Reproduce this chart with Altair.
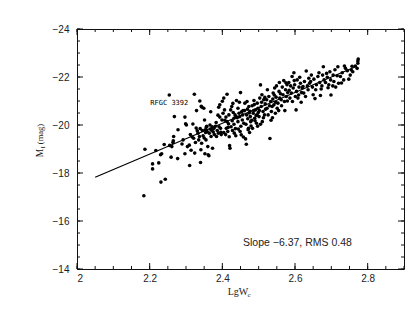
import altair as alt
import pandas as pd

# ---- data -----------------------------------------------------------------
lgw = [
    2.184, 2.187,
    2.208, 2.208, 2.217,
    2.225, 2.230, 2.233, 2.231, 2.240,
    2.243, 2.254, 2.259, 2.255,
    2.261, 2.264, 2.265, 2.266, 2.268, 2.278, 2.277,
    2.289, 2.292, 2.297, 2.297, 2.299,
    2.301, 2.304, 2.309, 2.312, 2.310, 2.319, 2.317, 2.314,
    2.323, 2.321, 2.324, 2.328, 2.331, 2.329, 2.333, 2.335, 2.338, 2.326, 2.337, 2.339,
    2.340, 2.341, 2.342, 2.344, 2.349, 2.351, 2.354, 2.356, 2.345, 2.347, 2.350, 2.353, 2.358, 2.343, 2.355, 2.352, 2.357,
    2.360, 2.361, 2.363, 2.373, 2.366, 2.367, 2.371, 2.375, 2.364, 2.377, 2.369, 2.378, 2.372, 2.368,
    2.383, 2.388, 2.390, 2.393, 2.386, 2.389, 2.395, 2.384, 2.391, 2.397, 2.399, 2.393, 2.381, 2.396,
    2.400, 2.404, 2.413, 2.402, 2.406, 2.410, 2.413, 2.417, 2.404, 2.409, 2.415, 2.419, 2.411, 2.418, 2.407, 2.416,
    2.420, 2.421, 2.423, 2.426, 2.430, 2.432, 2.435, 2.424, 2.428, 2.433, 2.437, 2.439, 2.432, 2.427, 2.438, 2.429, 2.436,
    2.450, 2.443, 2.446, 2.448, 2.452, 2.455, 2.457, 2.444, 2.459, 2.456, 2.443, 2.449, 2.458, 2.453, 2.447, 2.451, 2.441,
    2.464, 2.466, 2.462, 2.468, 2.473, 2.467, 2.470, 2.476, 2.478, 2.472, 2.479, 2.465, 2.475, 2.469, 2.474, 2.461, 2.477, 2.471,
    2.482, 2.487, 2.491, 2.496, 2.485, 2.489, 2.494, 2.498, 2.483, 2.490, 2.496, 2.499, 2.486, 2.493, 2.481, 2.497, 2.488,
    2.505, 2.503, 2.509, 2.514, 2.507, 2.512, 2.518, 2.501, 2.510, 2.516, 2.505, 2.519, 2.502, 2.513, 2.508, 2.517,
    2.531, 2.524, 2.528, 2.533, 2.537, 2.522, 2.535, 2.540, 2.526, 2.539, 2.530, 2.538, 2.523, 2.534,
    2.544, 2.549, 2.556, 2.548, 2.553, 2.558, 2.542, 2.551, 2.560, 2.546, 2.557, 2.543, 2.555, 2.547,
    2.569, 2.565, 2.574, 2.578, 2.567, 2.576, 2.571, 2.562, 2.580, 2.575, 2.563, 2.572, 2.579,
    2.597, 2.592, 2.588, 2.583, 2.595, 2.590, 2.599, 2.586, 2.601, 2.593, 2.584, 2.598,
    2.606, 2.611, 2.615, 2.604, 2.618, 2.613, 2.608, 2.620, 2.603, 2.610, 2.617,
    2.631, 2.626, 2.634, 2.638, 2.624, 2.636, 2.629, 2.640, 2.622,
    2.643, 2.648, 2.652, 2.657, 2.650, 2.659, 2.645, 2.655,
    2.678, 2.670, 2.663, 2.668, 2.674, 2.680, 2.666, 2.676, 2.672,
    2.699, 2.684, 2.689, 2.693, 2.698, 2.687, 2.696, 2.691,
    2.704, 2.707, 2.712, 2.716, 2.718, 2.705, 2.720, 2.710,
    2.725, 2.730, 2.734, 2.739, 2.736, 2.728,
    2.748, 2.752, 2.755, 2.759, 2.744, 2.757,
    2.766, 2.773, 2.773, 2.774, 2.771,
]
mag = [
    -17.05, -18.99,
    -18.38, -18.17, -18.94,
    -18.42, -18.76, -18.80, -17.62, -19.19,
    -17.74, -21.25, -18.66, -19.15,
    -19.10, -19.27, -19.34, -19.52, -20.35, -19.80, -18.60,
    -19.21, -19.38, -20.33, -18.80, -20.05,
    -20.00, -19.10, -19.16, -19.60, -18.31, -20.04, -19.50, -18.95,
    -21.28, -19.45, -18.83, -19.87, -19.76, -20.60, -19.66, -19.38, -21.00, -19.27, -19.52, -19.85,
    -18.44, -18.97, -20.78, -20.74, -20.70, -20.21, -19.69, -19.91, -19.77, -19.55, -19.46, -19.80, -19.73, -19.24, -19.38, -18.80, -19.95,
    -19.10, -18.76, -18.72, -19.03, -20.00, -19.83, -19.77, -19.71, -19.66, -19.86, -19.52, -19.60, -19.92, -20.55,
    -20.10, -20.41, -20.74, -20.84, -19.77, -19.66, -19.86, -19.52, -19.93, -19.60, -20.21, -20.33, -19.95, -19.70,
    -20.99, -21.12, -21.28, -20.49, -20.63, -20.33, -20.14, -20.05, -19.69, -19.60, -19.73, -19.51, -19.86, -20.42, -20.20, -19.90,
    -19.14, -19.03, -20.63, -20.77, -20.52, -20.28, -20.42, -19.93, -19.77, -19.66, -19.55, -21.02, -20.03, -20.18, -20.35, -20.90, -19.85,
    -21.35, -20.70, -20.49, -20.35, -19.59, -20.21, -20.60, -19.83, -20.07, -20.42, -20.14, -19.73, -19.50, -20.55, -20.95, -19.95, -20.30,
    -19.42, -19.20, -20.91, -20.98, -20.77, -20.42, -20.26, -20.57, -20.14, -19.86, -19.96, -20.03, -19.69, -20.66, -20.50, -20.60, -20.35, -19.80,
    -20.80, -21.02, -20.63, -20.42, -20.49, -20.28, -20.07, -20.70, -19.86, -20.18, -20.91, -20.52, -20.60, -20.40, -20.20, -19.95, -20.85,
    -21.67, -21.12, -21.26, -21.05, -20.77, -20.56, -20.88, -20.35, -20.14, -20.42, -20.03, -20.66, -20.60, -20.30, -20.95, -21.15,
    -19.44, -21.47, -21.19, -20.98, -20.77, -21.05, -20.56, -21.33, -20.42, -21.08, -20.80, -20.30, -20.70, -20.20,
    -21.54, -21.63, -21.40, -21.16, -20.91, -21.12, -20.84, -20.70, -21.30, -20.49, -21.77, -21.25, -20.60, -20.95,
    -21.85, -21.58, -21.47, -21.68, -21.26, -21.19, -20.98, -21.05, -21.35, -21.76, -20.80, -20.60, -21.00,
    -22.18, -22.02, -21.63, -21.77, -21.54, -21.33, -21.68, -21.12, -21.19, -20.98, -21.45, -21.85,
    -21.88, -21.58, -21.74, -21.40, -21.35, -21.99, -21.12, -21.54, -20.63, -21.25, -20.95,
    -22.25, -21.81, -21.63, -21.95, -21.33, -21.47, -21.19, -21.74, -21.60,
    -21.81, -21.58, -21.91, -21.47, -21.26, -21.68, -22.08, -21.10,
    -22.43, -21.23, -22.02, -21.77, -21.63, -21.88, -22.18, -22.08, -21.50,
    -21.25, -21.77, -21.99, -21.68, -21.88, -22.15, -22.22, -21.55,
    -21.63, -21.81, -21.58, -22.05, -22.43, -22.08, -21.74, -22.30,
    -22.02, -22.18, -21.88, -22.36, -22.46, -21.75,
    -21.91, -22.08, -22.29, -22.22, -22.26, -22.45,
    -22.46, -22.57, -22.67, -22.75, -22.36,
]

fit_x = [2.05, 2.77]
fit_y = [-17.82, -22.45]

label_x = [2.254]
label_y = [-21.25]
label_text = ["RFGC 3392"]

x_major = [2.0, 2.2, 2.4, 2.6, 2.8]
x_minor = [2.0, 2.05, 2.1, 2.15, 2.2, 2.25, 2.3, 2.35, 2.4, 2.45, 2.5,
           2.55, 2.6, 2.65, 2.7, 2.75, 2.8, 2.85, 2.9]
y_major = [-24, -22, -20, -18, -16, -14]
y_minor = [-24, -23.5, -23, -22.5, -22, -21.5, -21, -20.5, -20, -19.5, -19,
           -18.5, -18, -17.5, -17, -16.5, -16, -15.5, -15, -14.5, -14]

W, H = 327, 240

# ---- tables ---------------------------------------------------------------
pts = pd.DataFrame({"x": lgw, "y": mag})
fit = pd.DataFrame({"x": fit_x, "y": fit_y})
lab = pd.DataFrame({"x": label_x, "y": label_y, "t": label_text})
xmaj = pd.DataFrame({"v": x_major})
xmin = pd.DataFrame({"v": x_minor})
ymaj = pd.DataFrame({"v": y_major})
ymin = pd.DataFrame({"v": y_minor})

xs = alt.Scale(domain=[2.0, 2.9], nice=False, zero=False)
ys = alt.Scale(domain=[-24, -14], reverse=True, nice=False, zero=False)

LABEL_FONT = "Liberation Sans"
SERIF = "Liberation Serif"

points = alt.Chart(pts).mark_circle(size=13, color="black", opacity=1).encode(
    x=alt.X("x:Q", scale=xs,
            axis=alt.Axis(orient="bottom", values=x_major, format="~g",
                          ticks=False, tickSize=0, domain=False, grid=False,
                          labelFontSize=10, labelFont=LABEL_FONT,
                          labelColor="#222", labelPadding=4, title=None)),
    y=alt.Y("y:Q", scale=ys,
            axis=alt.Axis(orient="left", values=y_major, format="~g",
                          ticks=False, tickSize=0, domain=False, grid=False,
                          labelFontSize=10, labelFont=LABEL_FONT,
                          labelColor="#222", labelPadding=8, title=None)),
)

line = alt.Chart(fit).mark_line(color="black", strokeWidth=1.2).encode(
    x=alt.X("x:Q", scale=xs),
    y=alt.Y("y:Q", scale=ys),
)


def xticks(df, y0, y1):
    return alt.Chart(df).mark_rule(color="#111", strokeWidth=1).encode(
        x=alt.X("v:Q", scale=xs), y=alt.value(y0), y2=alt.value(y1))


def yticks(df, x0, x1):
    return alt.Chart(df).mark_rule(color="#111", strokeWidth=1).encode(
        y=alt.Y("v:Q", scale=ys), x=alt.value(x0), x2=alt.value(x1))


ticks = [
    xticks(xmaj, H, H - 6), xticks(xmin, H, H - 3),
    xticks(xmaj, 0, 6), xticks(xmin, 0, 3),
    yticks(ymaj, 0, 6), yticks(ymin, 0, 3),
    yticks(ymaj, W, W - 6), yticks(ymin, W, W - 3),
]

label = alt.Chart(lab).mark_text(font="DejaVu Sans Mono", fontSize=7,
                                 color="#000", dy=8).encode(
    x=alt.X("x:Q", scale=xs),
    y=alt.Y("y:Q", scale=ys),
    text="t:N",
)

one = alt.Data(values=[{}])


def txt(s, x, y, size, font, angle=0, align="center"):
    return alt.Chart(one).mark_text(text=s, fontSize=size, font=font,
                                    angle=angle, align=align,
                                    baseline="middle", color="#222").encode(
        x=alt.value(x), y=alt.value(y))


slope = txt("Slope  \u22126.37,  RMS  0.48", 166, 214, 10.5, LABEL_FONT, align="left")
ytitle_mag = txt("(mag)", -37, 105, 8.5, SERIF, angle=270)
ytitle_m = txt("M", -37, 124, 9.5, SERIF, angle=270)
ytitle_i = txt("I", -34.5, 118.5, 6.5, SERIF, angle=270)
xtitle = txt("LgW", 161, 263, 10, SERIF)
xtitle_c = txt("c", 172, 266, 7, SERIF)

chart = alt.layer(
    points, line, *ticks, label, slope,
    ytitle_mag, ytitle_m, ytitle_i, xtitle, xtitle_c,
).properties(
    width=W, height=H, autosize="none",
    padding={"left": 69, "top": 21, "right": 4, "bottom": 40},
).configure_view(stroke="#111", strokeWidth=1).configure_axis(grid=False)

chart.save("out.html", embed_options={"renderer": "svg", "actions": False})
